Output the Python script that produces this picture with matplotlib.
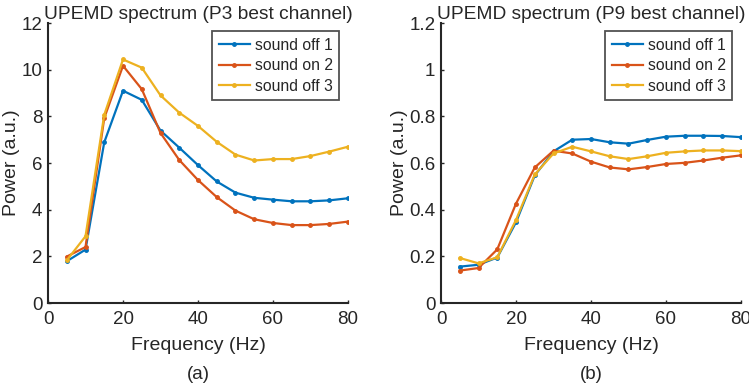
import matplotlib.pyplot as plt
from matplotlib.ticker import FuncFormatter

plt.rcParams['font.family'] = ['Liberation Sans', 'DejaVu Sans']

freq = [5, 10, 15, 20, 25, 30, 35, 40, 45, 50, 55, 60, 65, 70, 75, 80]

# P3 best channel
p3_off1 = [1.79, 2.29, 6.89, 9.10, 8.71, 7.39, 6.66, 5.91, 5.21, 4.73, 4.51, 4.43, 4.36, 4.36, 4.40, 4.49]
p3_on2 = [1.99, 2.40, 7.93, 10.17, 9.17, 7.29, 6.13, 5.27, 4.54, 3.96, 3.59, 3.43, 3.34, 3.34, 3.39, 3.49]
p3_off3 = [1.83, 2.86, 8.07, 10.44, 10.09, 8.90, 8.16, 7.59, 6.91, 6.36, 6.11, 6.17, 6.17, 6.30, 6.49, 6.70]

# P9 best channel
p9_off1 = [0.156, 0.164, 0.195, 0.346, 0.547, 0.650, 0.700, 0.703, 0.689, 0.683, 0.699, 0.713, 0.717, 0.717, 0.716, 0.711]
p9_on2 = [0.139, 0.150, 0.230, 0.426, 0.581, 0.653, 0.641, 0.606, 0.581, 0.573, 0.583, 0.596, 0.601, 0.611, 0.623, 0.633]
p9_off3 = [0.193, 0.170, 0.196, 0.356, 0.551, 0.641, 0.670, 0.650, 0.629, 0.617, 0.629, 0.644, 0.650, 0.654, 0.654, 0.651]

labels = ['sound off 1', 'sound on 2', 'sound off 3']
colors = ['#0072BD', '#D95319', '#EDB120']
axcol = '#262626'

fig = plt.figure(figsize=(7.49, 3.84), dpi=100)
ax1 = fig.add_axes([0.0641, 0.2109, 0.4005, 0.729])
ax2 = fig.add_axes([0.5888, 0.2109, 0.4005, 0.729])

panels = [
    (ax1, [p3_off1, p3_on2, p3_off3], 12, [0, 2, 4, 6, 8, 10, 12], 'UPEMD spectrum (P3 best channel)', '(a)'),
    (ax2, [p9_off1, p9_on2, p9_off3], 1.2, [0, 0.2, 0.4, 0.6, 0.8, 1, 1.2], 'UPEMD spectrum (P9 best channel)', '(b)'),
]

for ax, series, ymax, yt, title, tag in panels:
    for s, c, l in zip(series, colors, labels):
        ax.plot(freq, s, color=c, lw=1.6, marker='.', ms=5, label=l)
    ax.set_xlim(0, 80)
    ax.set_ylim(0, ymax)
    ax.set_xticks([0, 20, 40, 60, 80])
    ax.set_yticks(yt)
    ax.yaxis.set_major_formatter(FuncFormatter(lambda v, p: '%g' % round(v, 2)))
    for side in ['top', 'right']:
        ax.spines[side].set_visible(False)
    for side in ['left', 'bottom']:
        ax.spines[side].set_color(axcol)
        ax.spines[side].set_linewidth(1.5)
    ax.tick_params(direction='in', length=2.5, width=1.0, colors=axcol, labelsize=13.5, labelcolor=axcol, pad=4)
    ax.tick_params(axis='x', pad=6)
    ax.set_title(title, fontsize=13.8, color=axcol, pad=3)
    ax.set_xlabel('Frequency (Hz)', fontsize=14, color=axcol, labelpad=6)
    ax.set_ylabel('Power (a.u.)', fontsize=14, color=axcol, labelpad=1)
    ax.text(0.5, -0.255, tag, transform=ax.transAxes, ha='center', va='center', fontsize=13.5, color=axcol)
    leg = ax.legend(loc='upper right', bbox_to_anchor=(0.97, 0.97), fontsize=11.3, frameon=True, fancybox=False,
                    handlelength=2.0, handletextpad=0.3, borderpad=0.4, labelspacing=0.35, borderaxespad=0.0)
    leg.get_frame().set_edgecolor(axcol)
    leg.get_frame().set_linewidth(1.3)
    for t in leg.get_texts():
        t.set_color(axcol)

fig.savefig('out.png', dpi=100)
